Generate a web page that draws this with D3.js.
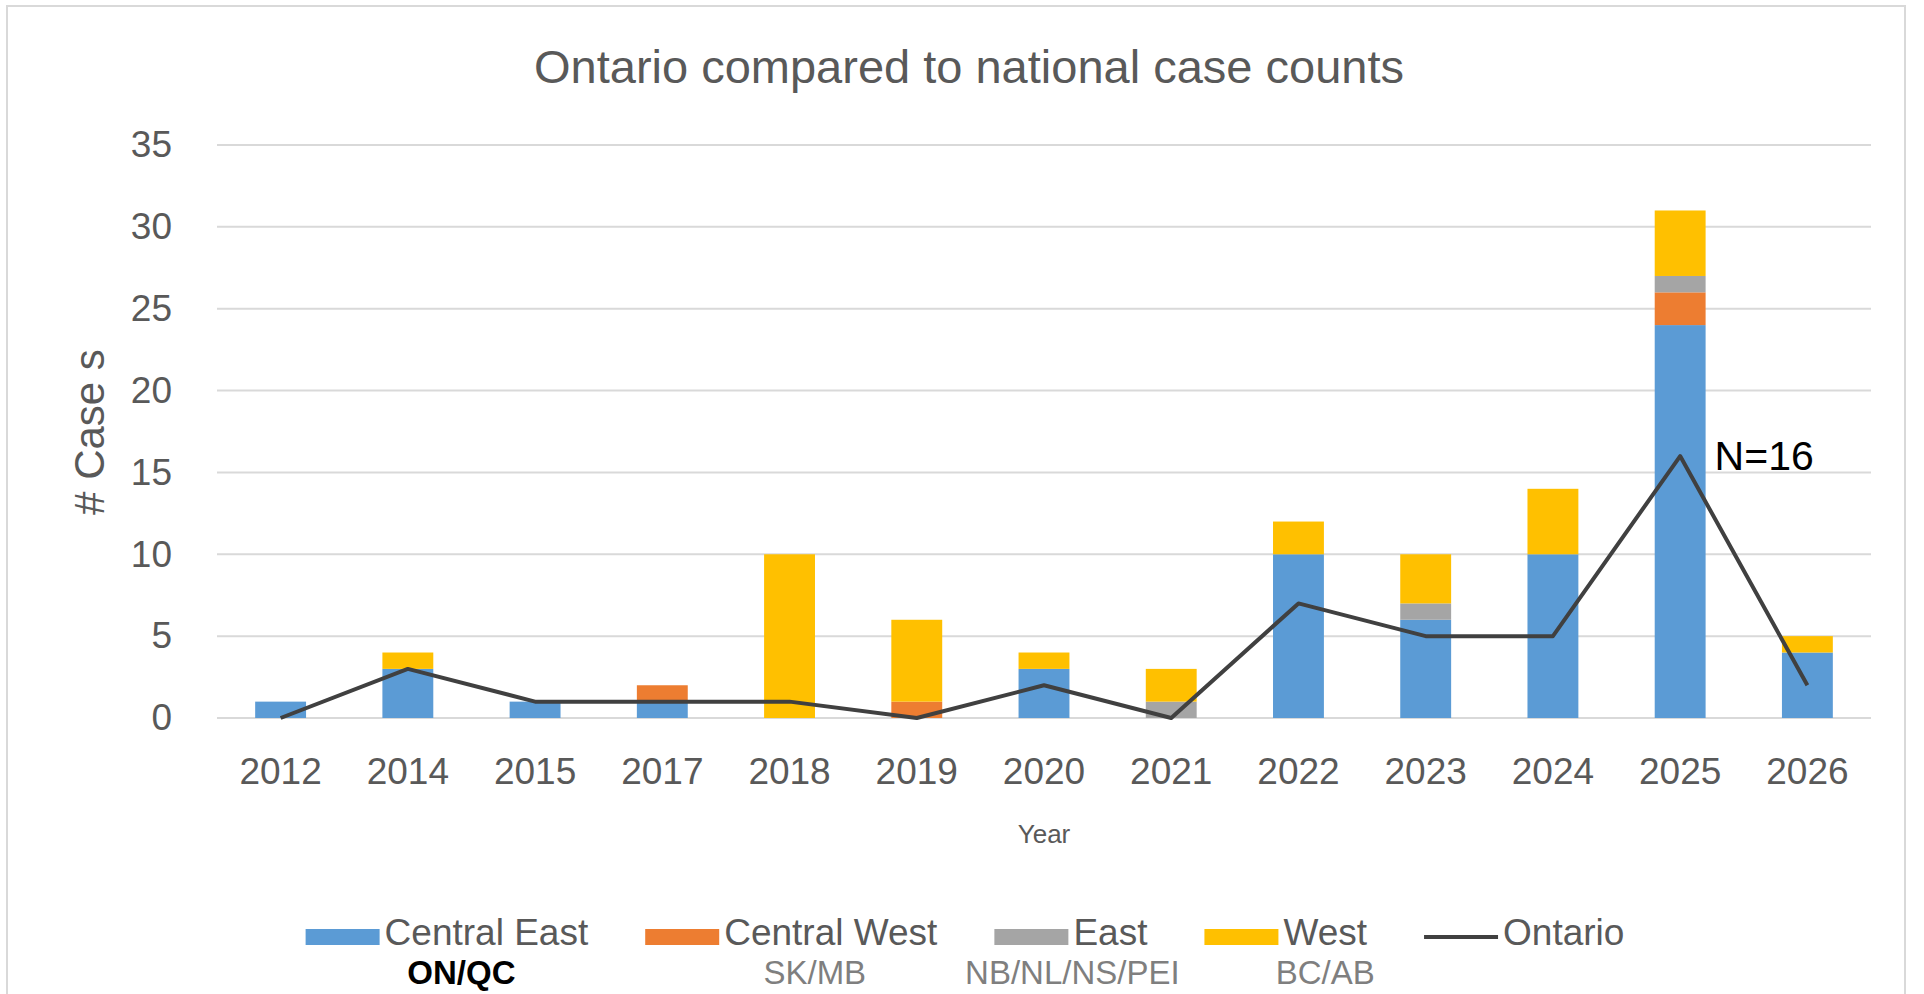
<!DOCTYPE html>
<html>
<head>
<meta charset="utf-8">
<script src="https://cdnjs.cloudflare.com/ajax/libs/d3/7.8.5/d3.min.js"></script>
<style>
  body { margin: 0; background: #fff; }
  text { font-family: "Liberation Sans", Arial, sans-serif; }
</style>
</head>
<body>
<div id="main"></div>
<script>
var years = ['2012', '2014', '2015', '2017', '2018', '2019', '2020', '2021', '2022', '2023', '2024', '2025', '2026'];

var centralEast = [1, 3, 1, 1, 0, 0, 3, 0, 10, 6, 10, 24, 4];
var centralWest = [0, 0, 0, 1, 0, 1, 0, 0, 0, 0, 0, 2, 0];
var east = [0, 0, 0, 0, 0, 0, 0, 1, 0, 1, 0, 1, 0];
var west = [0, 1, 0, 0, 10, 5, 1, 2, 2, 3, 4, 4, 1];

var ontario = [0, 3, 1, 1, 1, 0, 2, 0, 7, 5, 5, 16, 2];

var seriesNames = ['Central East', 'Central West', 'East', 'West'];
var seriesColors = ['#5b9bd5', '#ed7d31', '#a5a5a5', '#ffc000'];
var subLabels = ['ON/QC', 'SK/MB', 'NB/NL/NS/PEI', 'BC/AB'];

var yTicks = [0, 5, 10, 15, 20, 25, 30, 35];

function create_chart() {

  var width = 1924;
  var height = 994;

  var svg = d3.select('#main').append('svg')
    .attr('width', width)
    .attr('height', height);

  // chart border
  svg.append('rect')
    .attr('x', 7).attr('y', 6)
    .attr('width', 1898).attr('height', 1000)
    .attr('fill', 'none')
    .attr('stroke', '#d9d9d9')
    .attr('stroke-width', 2);

  var x = d3.scaleBand()
    .domain(years)
    .range([217, 1871])
    .paddingInner(0.6)
    .paddingOuter(0.3);

  var y = d3.scaleLinear()
    .domain([0, 35])
    .range([718, 145]);

  // gridlines
  svg.selectAll('.grid')
    .data(yTicks)
    .enter()
    .append('line')
    .attr('class', 'grid')
    .attr('x1', 217).attr('x2', 1871)
    .attr('y1', function (d) { return y(d); })
    .attr('y2', function (d) { return y(d); })
    .attr('stroke', '#d9d9d9')
    .attr('stroke-width', 2);

  // y axis
  var yAxis = svg.append('g')
    .attr('transform', 'translate(217,0)')
    .call(d3.axisLeft(y).tickValues(yTicks).tickSize(0).tickPadding(45));
  yAxis.select('.domain').remove();
  yAxis.selectAll('text')
    .attr('font-size', 37)
    .attr('font-family', '"Liberation Sans", Arial, sans-serif')
    .attr('fill', '#595959');

  // x axis
  var xAxis = svg.append('g')
    .attr('transform', 'translate(0,718)')
    .call(d3.axisBottom(x).tickSize(0).tickPadding(40));
  xAxis.select('.domain').remove();
  xAxis.selectAll('text')
    .attr('font-size', 37)
    .attr('font-family', '"Liberation Sans", Arial, sans-serif')
    .attr('fill', '#595959');

  // stacked bars
  var table = years.map(function (yr, i) {
    return {
      year: yr,
      'Central East': centralEast[i],
      'Central West': centralWest[i],
      'East': east[i],
      'West': west[i]
    };
  });

  var stacked = d3.stack().keys(seriesNames)(table);

  svg.selectAll('.layer')
    .data(stacked)
    .enter()
    .append('g')
    .attr('class', 'layer')
    .attr('fill', function (d, i) { return seriesColors[i]; })
    .selectAll('rect')
    .data(function (d) { return d; })
    .enter()
    .append('rect')
    .attr('x', function (d) { return x(d.data.year); })
    .attr('width', x.bandwidth())
    .attr('y', function (d) { return y(d[1]); })
    .attr('height', function (d) { return y(d[0]) - y(d[1]); });

  // Ontario line
  var line = d3.line()
    .x(function (d, i) { return x(years[i]) + x.bandwidth() / 2; })
    .y(function (d) { return y(d); });

  svg.append('path')
    .datum(ontario)
    .attr('d', line)
    .attr('fill', 'none')
    .attr('stroke', '#404040')
    .attr('stroke-width', 4)
    .attr('stroke-linejoin', 'round');

  // N=16 annotation next to the 2025 peak
  var peak = d3.maxIndex(ontario);
  svg.append('text')
    .attr('x', x(years[peak]) + x.bandwidth() + 9)
    .attr('y', y(ontario[peak]) + 14)
    .attr('font-size', 41)
    .attr('fill', '#000')
    .text('N=' + ontario[peak]);

  // title
  svg.append('text')
    .attr('x', 969)
    .attr('y', 83)
    .attr('text-anchor', 'middle')
    .attr('font-size', 47)
    .attr('fill', '#595959')
    .text('Ontario compared to national case counts');

  // axis titles
  svg.append('text')
    .attr('transform', 'translate(104,432) rotate(-90)')
    .attr('text-anchor', 'middle')
    .attr('font-size', 42)
    .attr('fill', '#595959')
    .text('# Case s');

  svg.append('text')
    .attr('x', 1044)
    .attr('y', 843)
    .attr('text-anchor', 'middle')
    .attr('font-size', 26)
    .attr('fill', '#595959')
    .text('Year');

  // legend
  var legendItems = seriesNames.concat(['Ontario']);
  var legend = svg.append('g');
  var lx = 0;
  var gap = 57;
  var itemPos = [];

  legendItems.forEach(function (name, i) {

    var g = legend.append('g').attr('transform', 'translate(' + lx + ',0)');

    if (i < seriesNames.length) {
      g.append('rect')
        .attr('x', 0).attr('y', 929)
        .attr('width', 74).attr('height', 16)
        .attr('fill', seriesColors[i]);
    }
    else {
      g.append('line')
        .attr('x1', 0).attr('x2', 74)
        .attr('y1', 937).attr('y2', 937)
        .attr('stroke', '#404040')
        .attr('stroke-width', 4);
    }

    var t = g.append('text')
      .attr('x', 79)
      .attr('y', 945)
      .attr('font-size', 37)
      .attr('fill', '#595959')
      .text(name);

    var tw = t.node().getComputedTextLength();

    itemPos.push(lx + 79 + tw / 2);

    lx += 79 + tw + gap;
  });

  var legendWidth = lx - gap;
  var legendStart = 965 - legendWidth / 2;
  legend.attr('transform', 'translate(' + legendStart + ',0)');

  // region sub-labels (hand-placed text boxes under the legend entries)
  var subNudge = [-25, -16, -38, 0];

  svg.selectAll('.sub')
    .data(subLabels)
    .enter()
    .append('text')
    .attr('class', 'sub')
    .attr('x', function (d, i) { return legendStart + itemPos[i] + subNudge[i]; })
    .attr('y', 984)
    .attr('text-anchor', 'middle')
    .attr('font-size', 33)
    .attr('font-weight', function (d, i) { return i === 0 ? 'bold' : 'normal'; })
    .attr('fill', function (d, i) { return i === 0 ? '#000' : '#7f7f7f'; })
    .text(function (d) { return d; });
}

create_chart();
</script>
</body>
</html>
